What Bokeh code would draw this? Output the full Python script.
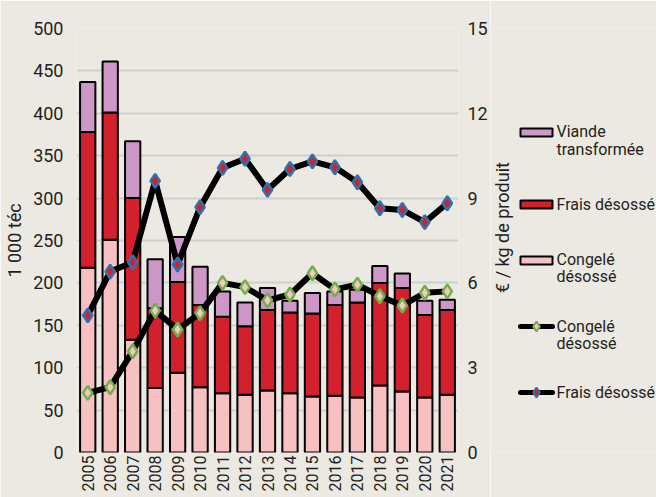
import math
from bokeh.plotting import figure
from bokeh.layouts import row
from bokeh.core.properties import value
from bokeh.models import (ColumnDataSource, FactorRange, Range1d, LinearAxis,
                          SingleIntervalTicker)
from bokeh.embed import file_html
from bokeh.resources import INLINE

# Volumes (1 000 téc) by product type, and prices (€ / kg de produit)
years = [str(y) for y in range(2005, 2022)]
congele = [218, 251, 133, 76, 94, 77, 70, 68, 73, 70, 66, 67, 65, 79, 72, 65, 68]
frais = [160, 150, 167, 94, 107, 97, 90, 81, 95, 95, 98, 107, 112, 121, 122, 97, 100]
viande = [59, 60, 67, 58, 53, 45, 30, 28, 26, 14, 24, 16, 15, 20, 17, 17, 12]
prix_frais = [4.85, 6.40, 6.73, 9.61, 6.65, 8.68, 10.07, 10.39, 9.29, 10.03,
              10.30, 10.09, 9.56, 8.64, 8.58, 8.15, 8.82]
prix_congele = [2.11, 2.31, 3.58, 5.02, 4.35, 4.93, 6.00, 5.85, 5.38, 5.59,
                6.34, 5.77, 5.94, 5.53, 5.20, 5.65, 5.70]

label_volume = "1 000 téc"
label_prix = "€ / kg de produit"
legend_bars = [["Viande", "transformée"], ["Frais désossé"], ["Congelé", "désossé"]]
legend_lines = [["Congelé", "désossé"], ["Frais désossé"]]

FONT = "Roboto"
INK = "#231F20"
BG = "#ECE9E2"
C_VIANDE = "#CD97C8"
C_FRAIS = "#D2202C"
C_CONGELE = "#F7C1C2"
C_MK_CONG_FILL, C_MK_CONG_LINE = "#F8C6C2", "#6FB04A"
C_MK_FRAIS_LINE = "#2F73AE"

# page layout (pixels)
W, H = 656, 497
LEFT, TOP, FW, FH = 76, 28, 382, 424
RIGHT = 32
BOTTOM = H - TOP - FH

src = ColumnDataSource(dict(year=years, congele=congele, frais=frais, viande=viande,
                            prix_frais=prix_frais, prix_congele=prix_congele))

# ---- main chart -------------------------------------------------------------
p = figure(x_range=FactorRange(*years, range_padding=0), y_range=Range1d(0, 500),
           frame_width=FW, frame_height=FH,
           min_border_left=LEFT, min_border_top=TOP, min_border_bottom=BOTTOM,
           min_border_right=RIGHT,
           output_backend="svg", toolbar_location=None,
           background_fill_color=BG, border_fill_color=BG)
p.outline_line_color = None
p.extra_y_ranges = {"prix": Range1d(0, 15)}

p.vbar_stack(["congele", "frais", "viande"], x="year", width=0.68, source=src,
             fill_color=[C_CONGELE, C_FRAIS, C_VIANDE],
             line_color="black", line_width=2)

p.line("year", "prix_congele", source=src, y_range_name="prix",
       line_color="black", line_width=6, line_join="round")
p.scatter("year", "prix_congele", source=src, y_range_name="prix",
          marker="diamond", size=14, fill_color=C_MK_CONG_FILL,
          line_color=C_MK_CONG_LINE, line_width=2.5)
p.line("year", "prix_frais", source=src, y_range_name="prix",
       line_color="black", line_width=6, line_join="round")
p.scatter("year", "prix_frais", source=src, y_range_name="prix",
          marker="diamond", size=14, fill_color=C_FRAIS,
          line_color=C_MK_FRAIS_LINE, line_width=2.5)

ya = p.yaxis[0]
ya.ticker = SingleIntervalTicker(interval=50)
ya.axis_label = label_volume
ya.axis_label_standoff = 5
ya.axis_label_text_font = FONT
ya.axis_label_text_font_size = "18px"
ya.axis_label_text_font_style = "normal"
ya.axis_label_text_color = INK

ra = LinearAxis(y_range_name="prix", ticker=SingleIntervalTicker(interval=3))
p.add_layout(ra, "right")

for ax in (ya, ra, p.xaxis[0]):
    ax.axis_line_color = None
    ax.major_tick_line_color = None
    ax.minor_tick_line_color = None
    ax.major_tick_out = 0
    ax.major_tick_in = 0
    ax.minor_tick_out = 0
    ax.minor_tick_in = 0
    ax.major_label_text_font = FONT
    ax.major_label_text_font_size = "18px"
    ax.major_label_text_color = INK
ya.major_label_standoff = 13
ra.major_label_standoff = 9

xa = p.xaxis[0]
xa.major_label_orientation = math.pi / 2
xa.major_label_standoff = 3
xa.major_label_text_font_size = "16px"

p.xgrid.grid_line_color = None
p.ygrid.grid_line_color = "#CFCFCF"
p.ygrid.grid_line_width = 2
p.ygrid.ticker = SingleIntervalTicker(interval=50)

# ---- side panel: price axis title and legend (page pixels, y downwards) ------
X0 = LEFT + FW + RIGHT
side = figure(width=W - X0, height=H, x_range=Range1d(0, W - X0),
              y_range=Range1d(TOP + FH, TOP),
              min_border_left=0, min_border_right=0,
              min_border_top=TOP, min_border_bottom=BOTTOM,
              x_axis_location=None, y_axis_location=None,
              output_backend="svg", toolbar_location=None,
              background_fill_color=BG, border_fill_color=BG)
side.outline_line_color = None
side.grid.grid_line_color = None

side.text(x=[502 - X0], y=[227], text=[label_prix], angle=math.pi / 2,
          text_align="center", text_baseline="middle",
          text_font=value(FONT), text_font_size="18px", text_color=INK)

sw_x0, sw_x1, txt_x = 520 - X0, 552 - X0, 556 - X0
bar_rows = [132, 204, 260]
bar_text_y = [[131, 149], [204], [259, 276]]
bar_fill = [C_VIANDE, C_FRAIS, C_CONGELE]
side.quad(left=[sw_x0] * 3, right=[sw_x1] * 3,
          top=[y - 4 for y in bar_rows], bottom=[y + 4 for y in bar_rows],
          fill_color=bar_fill, line_color="black", line_width=2)

line_rows = [326, 392]
line_text_y = [[326, 343], [392]]
mk_fill = [C_MK_CONG_FILL, C_FRAIS]
mk_line = [C_MK_CONG_LINE, C_MK_FRAIS_LINE]
for yy, fc, lc in zip(line_rows, mk_fill, mk_line):
    side.line(x=[520 - X0, 552 - X0], y=[yy, yy], line_color="black",
              line_width=5, line_cap="round")
    side.scatter(x=[536 - X0], y=[yy], marker="diamond", size=10,
                 fill_color=fc, line_color=lc, line_width=2)

tx, ty, tt = [], [], []
for lines, ys in zip(legend_bars + legend_lines, bar_text_y + line_text_y):
    for s, yy in zip(lines, ys):
        tx.append(txt_x)
        ty.append(yy)
        tt.append(s)
side.text(x=tx, y=ty, text=tt, text_align="left", text_baseline="middle",
          text_font=value(FONT), text_font_size="16px", text_color=INK)

open("out.html", "w").write(file_html(row(p, side), INLINE))
